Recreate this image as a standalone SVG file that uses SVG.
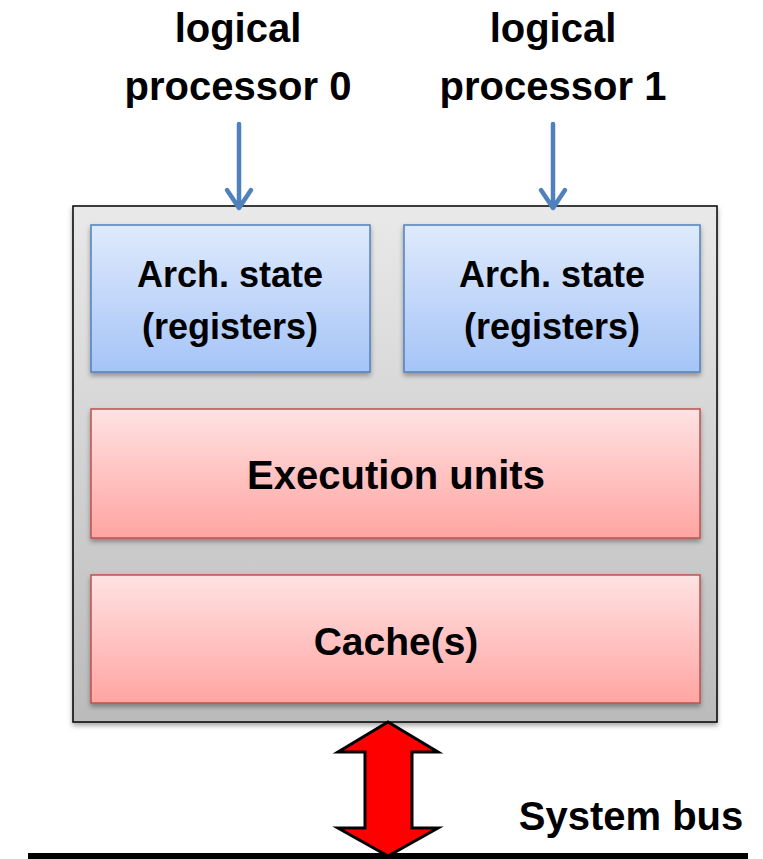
<svg xmlns="http://www.w3.org/2000/svg" width="763" height="859" viewBox="0 0 763 859">
<defs>
<linearGradient id="gOuter" x1="0" y1="0" x2="0" y2="1"><stop offset="0" stop-color="#e9e9e9"/><stop offset="1" stop-color="#bbbbbb"/></linearGradient>
<linearGradient id="gBlue" x1="0" y1="0" x2="0" y2="1"><stop offset="0" stop-color="#dfeafc"/><stop offset="1" stop-color="#a5c4f7"/></linearGradient>
<linearGradient id="gRed" x1="0" y1="0" x2="0" y2="1"><stop offset="0" stop-color="#ffe2e2"/><stop offset="1" stop-color="#ffa5a2"/></linearGradient>
<filter id="sh" x="-5%" y="-5%" width="110%" height="115%"><feDropShadow dx="0" dy="3" stdDeviation="2.5" flood-color="#000" flood-opacity="0.35"/></filter>
</defs>
<style>
text{font-family:"Liberation Sans",Arial,sans-serif;font-weight:bold;fill:#000;text-anchor:middle}
.blue{fill:url(#gBlue);stroke:#4f81bd;stroke-width:1.5}
.red{fill:url(#gRed);stroke:#c0504d;stroke-width:1.5}
.conn{stroke:#4f81bd;stroke-width:4.5;fill:none;stroke-linecap:round;stroke-linejoin:round}
</style>
<rect width="763" height="859" fill="#fff"/>
<g id="lp0"><text x="238" y="42" font-size="40">logical</text><text x="238" y="100" font-size="40">processor 0</text></g>
<g id="lp1"><text x="553" y="42" font-size="40">logical</text><text x="553" y="100" font-size="40">processor 1</text></g>
<g id="core"><rect x="73" y="206" width="644" height="516" fill="url(#gOuter)" stroke="#000" stroke-width="1.5" filter="url(#sh)"/></g>
<g id="arch0"><rect class="blue" x="91" y="225" width="279" height="147" filter="url(#sh)"/><text x="230" y="287" font-size="36">Arch. state</text><text x="230" y="339" font-size="36">(registers)</text></g>
<g id="arch1"><rect class="blue" x="404" y="225" width="296" height="147" filter="url(#sh)"/><text x="552" y="287" font-size="36">Arch. state</text><text x="552" y="339" font-size="36">(registers)</text></g>
<g id="exec"><rect class="red" x="91" y="409" width="609" height="129" filter="url(#sh)"/><text x="396" y="489" font-size="40">Execution units</text></g>
<g id="cache"><rect class="red" x="91" y="575" width="609" height="128" filter="url(#sh)"/><text x="396" y="655" font-size="39">Cache(s)</text></g>
<g id="bus"><rect x="28" y="853" width="720" height="6" fill="#000"/><text x="631" y="830" font-size="40">System bus</text></g>
<g id="connectors">
<path class="conn" d="M239 124V208M227 190L239 208L251 190"/>
<path class="conn" d="M553 124V208M541 190L553 208L565 190"/>
<path d="M388 722L438 752H412V828H438L388 856L338 828H365V752H338Z" fill="#ff0000" stroke="#000" stroke-width="3" stroke-linejoin="miter"/>
</g>
</svg>
